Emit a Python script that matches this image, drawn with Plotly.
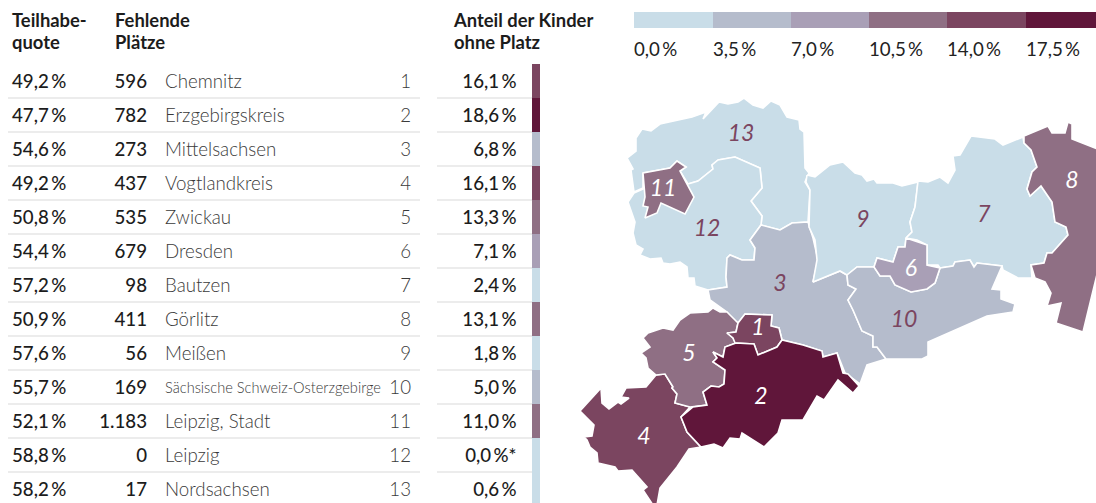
import plotly.graph_objects as go

# ---------- data ----------
RANKS = list(range(1, 14))
KREISE = ["Chemnitz", "Erzgebirgskreis", "Mittelsachsen", "Vogtlandkreis", "Zwickau", "Dresden", "Bautzen",
          "Görlitz", "Meißen", "Sächsische Schweiz-Osterzgebirge", "Leipzig, Stadt", "Leipzig", "Nordsachsen"]
TEILHABE = [49.2, 47.7, 54.6, 49.2, 50.8, 54.4, 57.2, 50.9, 57.6, 55.7, 52.1, 58.8, 58.2]
FEHLEND = ["596", "782", "273", "437", "535", "679", "98", "411", "56", "169", "1.183", "0", "17"]
ANTEIL = [16.1, 18.6, 6.8, 16.1, 13.3, 7.1, 2.4, 13.1, 1.8, 5.0, 11.0, 0.0, 0.6]
LEGEND_BINS = [0.0, 3.5, 7.0, 10.5, 14.0, 17.5]
COLORS = ["#c9dde8", "#b5bccc", "#a99fb6", "#8f6f84", "#7b4560", "#60163a"]

# district outlines (map units)
R1 = [(738,323),(745,314),(772,315),(771,326),(779,328),(782,340),(777,347),(758,355),(754,344),(735,343),(733,338),(727,333),(736,332)]
R2 = [(736,343),(754,344),(758,355),(777,347),(782,340),(803,345),(822,351),(823,357),(837,353),(843,373),(848,374),(859,386),(853,393),(838,380),(824,400),(817,396),(803,420),(782,420),(778,433),(764,447),(742,433),(740,439),(730,438),(723,448),(714,444),(701,447),(687,432),(681,417),(693,407),(707,405),(703,392),(711,386),(719,387),(724,384),(725,370),(713,362),(717,358),(713,352),(723,357),(725,347)]
R3 = [(708,290),(727,287),(726,277),(727,258),(730,255),(742,260),(754,260),(755,248),(750,240),(761,225),(780,230),(792,223),(808,222),(813,238),(818,260),(813,282),(840,271),(847,275),(848,285),(856,289),(848,300),(853,310),(862,331),(873,336),(873,347),(877,347),(886,359),(867,365),(860,384),(845,373),(837,353),(823,357),(822,351),(803,345),(782,340),(779,328),(771,326),(772,315),(745,314),(738,323),(733,320),(727,312),(710,300)]
R4 = [(656,375),(665,374),(673,387),(672,388),(677,394),(675,403),(690,407),(681,417),(687,432),(701,447),(689,449),(677,467),(660,488),(657,505),(653,505),(643,490),(647,487),(632,470),(618,471),(615,467),(598,463),(597,453),(590,447),(587,440),(584,437),(592,436),(594,425),(580,411),(601,388),(602,403),(609,409),(618,402),(621,404),(629,398),(621,397),(626,388),(646,387)]
R5 = [(690,313),(708,312),(713,308),(720,312),(727,312),(738,323),(736,332),(727,333),(733,338),(736,343),(725,347),(723,357),(713,352),(717,358),(713,362),(725,370),(724,384),(719,387),(711,386),(703,392),(707,405),(690,407),(675,403),(677,394),(672,388),(673,387),(665,374),(656,375),(648,368),(646,358),(641,353),(650,347),(643,338),(648,333),(663,328),(673,330),(680,320)]
R6 = [(906,238),(927,245),(927,265),(940,268),(935,283),(927,289),(911,292),(895,285),(890,276),(880,276),(874,267),(877,258),(893,262),(898,247),(905,247)]
R7 = [(918,181),(928,182),(940,177),(948,183),(955,170),(953,156),(960,155),(971,136),(995,139),(1003,145),(1023,137),(1024,143),(1031,150),(1037,167),(1032,172),(1027,189),(1030,196),(1041,186),(1052,202),(1055,222),(1066,227),(1068,235),(1052,253),(1047,253),(1044,263),(1031,265),(1032,278),(1018,278),(1003,270),(1002,266),(977,263),(974,267),(970,260),(955,262),(953,266),(940,268),(938,265),(927,265),(927,245),(917,240),(906,238),(912,232),(910,222),(915,207)]
R8 = [(1024,136),(1043,128),(1048,126),(1052,133),(1065,133),(1068,122),(1072,124),(1072,139),(1100,150),(1100,262),(1083,332),(1056,323),(1061,303),(1047,306),(1051,293),(1045,282),(1035,278),(1031,265),(1044,263),(1047,253),(1052,253),(1068,235),(1066,227),(1055,222),(1052,202),(1041,186),(1030,196),(1027,189),(1032,172),(1037,167),(1031,150),(1024,143)]
R9 = [(807,175),(815,177),(830,165),(843,162),(855,173),(862,175),(867,181),(874,179),(877,183),(893,183),(902,186),(918,182),(915,207),(910,222),(912,232),(906,238),(905,247),(898,247),(893,262),(877,258),(874,267),(857,267),(847,275),(840,271),(813,282),(817,260),(815,240),(809,227),(810,190),(806,182)]
R10 = [(874,267),(880,276),(890,276),(895,285),(911,292),(927,289),(935,283),(940,268),(953,266),(955,262),(970,260),(974,267),(977,263),(1002,266),(992,289),(1001,290),(1001,299),(1015,304),(1013,312),(987,316),(928,342),(928,356),(922,359),(886,359),(877,347),(873,347),(873,336),(862,331),(853,310),(848,300),(856,289),(848,285),(847,275),(857,267)]
R11 = [(643,173),(670,168),(677,161),(686,167),(680,171),(694,197),(685,214),(661,203),(657,213),(645,218),(648,207),(643,206),(645,197)]
R12 = [(718,160),(735,157),(760,168),(762,188),(751,201),(762,216),(761,225),(750,240),(755,248),(754,260),(742,260),(730,255),(727,258),(726,277),(727,287),(708,290),(695,286),(694,278),(688,278),(687,267),(680,262),(670,264),(663,263),(661,258),(650,259),(640,255),(643,249),(636,245),(633,233),(635,222),(628,202),(634,193),(643,189),(688,184),(698,181),(713,169),(712,165)]
R13 = [(703,119),(706,112),(692,117),(660,124),(651,131),(642,129),(636,138),(636,151),(627,158),(633,169),(631,170),(634,192),(643,188),(643,173),(670,168),(677,161),(686,167),(680,171),(688,184),(698,181),(713,169),(712,165),(718,160),(735,157),(760,168),(762,188),(751,201),(762,216),(761,225),(780,230),(792,223),(808,222),(810,190),(805,182),(809,173),(805,168),(804,132),(800,129),(799,120),(787,117),(780,105),(771,101),(763,108),(753,105),(744,98),(738,102),(728,104),(719,102)]
OUTLINES = [R1, R2, R3, R4, R5, R6, R7, R8, R9, R10, R11, R12, R13]
LABEL_X = [758, 761, 780, 644, 689, 911, 984, 1072, 863, 904, 663, 707, 741]
LABEL_Y = [327, 396, 283, 436, 353, 268, 214, 180, 219, 319, 188, 228, 133]
LABEL_LIGHT = [True, True, False, True, True, True, False, True, False, False, True, False, False]

# ---------- helpers ----------
FONT = "Lato"
INK = "#1c1c1c"
MUTED = "#3a3a3a"
ROW_STEP = 34
ROW0 = 81
DY = 2.2
BODY = 18.7


def bin_color(v):
    c = COLORS[0]
    for lo, col in zip(LEGEND_BINS, COLORS):
        if v >= lo:
            c = col
    return c


def pct(v):
    return f"{v:.1f}".replace(".", ",") + "\u2009%"


row_y = [ROW0 + ROW_STEP * i for i in range(len(KREISE))]
fig = go.Figure()


def txt(x, y, text, pos, size=BODY, color=INK, weight=400, style="normal"):
    sizes = size if isinstance(size, list) else [size] * len(text)
    xs = x if isinstance(x, list) else [x] * len(text)
    fig.add_trace(go.Scatter(x=xs, y=[v + DY for v in y], text=text, mode="text", textposition=pos, hoverinfo="skip",
                             textfont=dict(family=FONT, size=sizes, color=color, weight=weight, style=style)))


# map
order = [12, 11, 10, 2, 8, 6, 9, 5, 7, 3, 4, 0, 1]
for i in order:
    xs = [p[0] for p in OUTLINES[i]] + [OUTLINES[i][0][0]]
    ys = [p[1] for p in OUTLINES[i]] + [OUTLINES[i][0][1]]
    fig.add_trace(go.Scatter(x=xs, y=ys, mode="lines", fill="toself", fillcolor=bin_color(ANTEIL[i]),
                             line=dict(color="white", width=1.6), hoverinfo="skip", name=KREISE[i]))

for light in (True, False):
    idx = [i for i in range(13) if LABEL_LIGHT[i] == light]
    txt([LABEL_X[i] for i in idx], [LABEL_Y[i] for i in idx], [str(RANKS[i]) for i in idx], "middle center",
        size=23, color="white" if light else "#7b4560", style="italic", weight=400)

# share column
fig.add_trace(go.Bar(x=[536] * 13, y=[ROW_STEP] * 13, base=[y - 17 for y in row_y], width=8,
                     marker=dict(color=[bin_color(v) for v in ANTEIL], line=dict(width=0)), hoverinfo="skip"))

# legend
LEG_X = [634, 713, 791, 869, 947, 1026, 1096]
fig.add_trace(go.Bar(x=[(a + b) / 2 for a, b in zip(LEG_X, LEG_X[1:])], y=[16] * 6, base=[12] * 6,
                     width=[b - a for a, b in zip(LEG_X, LEG_X[1:])],
                     marker=dict(color=COLORS, line=dict(width=0)), hoverinfo="skip"))
txt(LEG_X[:6], [49] * 6, [pct(v) for v in LEGEND_BINS], "middle right", color="#222", weight=400)

# table
txt(12, row_y, [pct(v) for v in TEILHABE], "middle right", weight=500)
txt(147, row_y, FEHLEND, "middle left", weight=500)
txt(165, row_y, KREISE, "middle right", size=[14.6 if len(k) > 20 else BODY for k in KREISE], color=MUTED, weight=300)
txt(411, row_y, [str(r) for r in RANKS], "middle left", color=MUTED, weight=300)
txt(516.5, row_y, [pct(v) + ("*" if v == 0 else "") for v in ANTEIL], "middle left", weight=500)

# headers
txt(12, [20, 42], ["Teilhabe-", "quote"], "middle right", size=18.4, weight=700)
txt(115, [20, 42], ["Fehlende", "Plätze"], "middle right", size=18.4, weight=700)
txt(454, [20, 42], ["Anteil der Kinder", "ohne Platz"], "middle right", size=18.4, weight=700)

shapes = []
for y in row_y[:-1]:
    yy = y + 17
    for x0, x1 in ((8, 420), (437, 532)):
        shapes.append(dict(type="line", x0=x0, x1=x1, y0=yy, y1=yy, layer="below",
                           line=dict(color="#ececec", width=2)))

fig.update_layout(width=1096, height=503, margin=dict(l=0, r=0, t=0, b=0), showlegend=False,
                  plot_bgcolor="white", paper_bgcolor="white", barmode="overlay", shapes=shapes,
                  xaxis=dict(range=[0, 1096], visible=False, fixedrange=True),
                  yaxis=dict(range=[503, 0], visible=False, fixedrange=True))
fig.write_html("out.html", config=dict(displayModeBar=False),
               post_script="document.body.style.margin='0';")
